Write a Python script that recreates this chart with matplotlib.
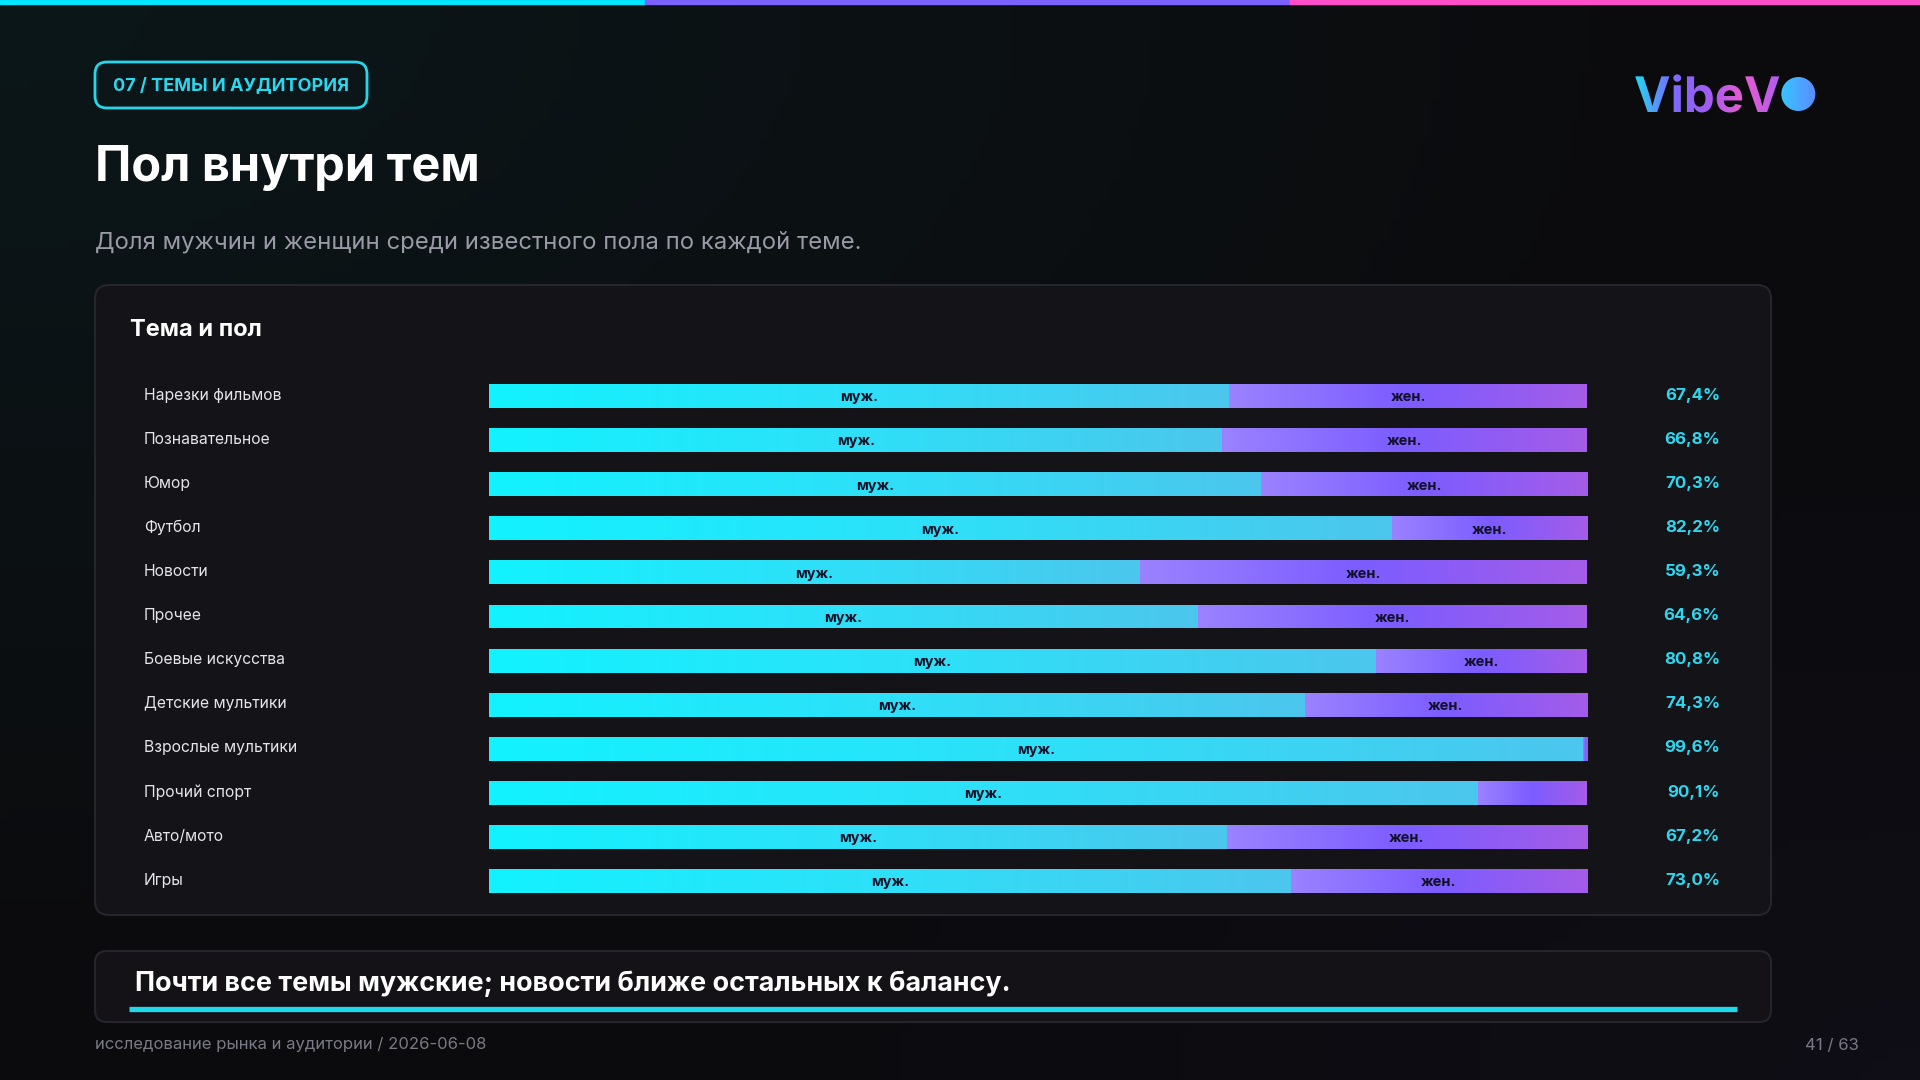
import numpy as np
import matplotlib
matplotlib.use("Agg")
import matplotlib.pyplot as plt
from matplotlib.colors import LinearSegmentedColormap, to_rgb
from matplotlib.patches import FancyBboxPatch, Rectangle, Circle, PathPatch
from matplotlib.textpath import TextPath
from matplotlib.font_manager import FontProperties
from matplotlib.transforms import Affine2D, blended_transform_factory

plt.rcParams['font.family'] = ['Inter', 'DejaVu Sans']

# data
topics = ['Нарезки фильмов', 'Познавательное', 'Юмор', 'Футбол', 'Новости', 'Прочее',
          'Боевые искусства', 'Детские мультики', 'Взрослые мультики', 'Прочий спорт',
          'Авто/мото', 'Игры']
male = np.array([67.4, 66.8, 70.3, 82.2, 59.3, 64.6, 80.8, 74.3, 99.6, 90.1, 67.2, 73.0])
female = 100 - male
pct_labels = [f'{v:.1f}%'.replace('.', ',') for v in male]

W, H = 1920, 1080
fig = plt.figure(figsize=(19.2, 10.8), dpi=100)

# background axes in pixel coords
bg = fig.add_axes([0, 0, 1, 1])
bg.set_xlim(0, W)
bg.set_ylim(H, 0)
bg.axis('off')

# dark background with soft tints
yy, xx = np.mgrid[0:108, 0:192]
base = np.array(to_rgb('#0b0b0d'))
teal = np.array(to_rgb('#0c171a'))
purp = np.array(to_rgb('#12101c'))
d1 = np.clip(1 - np.hypot(xx / 192, yy / 108) / 0.9, 0, 1)[..., None]
d2 = np.clip(1 - np.hypot((192 - xx) / 192, (108 - yy) / 108) / 0.7, 0, 1)[..., None]
img = base * (1 - d1 - d2 * 0.6) + teal * d1 + purp * d2 * 0.6
bg.imshow(np.clip(img, 0, 1), extent=(0, W, H, 0), aspect='auto', zorder=0)

# top stripe
for x0, x1, c in [(0, 645, '#00e5ff'), (645, 1290, '#7b61ff'), (1290, W, '#ff4fc8')]:
    bg.add_patch(Rectangle((x0, 0), x1 - x0, 4, color=c, zorder=2))

# badge
bg.add_patch(FancyBboxPatch((95, 62), 272, 46, boxstyle='round,pad=0,rounding_size=12',
                            facecolor='#0c1518', edgecolor='#26d6ea', lw=2, zorder=2))
bg.text(231, 86, '07 / ТЕМЫ И АУДИТОРИЯ', color='#2ad8ee', fontsize=13,
        fontweight='bold', ha='center', va='center', zorder=3)

# title and subtitle
bg.text(95, 181, 'Пол внутри тем', color='white', fontsize=35, fontweight='bold',
        va='baseline', ha='left', zorder=3)
bg.text(95, 242, 'Доля мужчин и женщин среди известного пола по каждой теме.',
        color='#9a9aa6', fontsize=17.2, va='center', ha='left', zorder=3)

# logo with gradient fill
fp = FontProperties(family='Inter', weight='bold')
tp = TextPath((0, 0), 'VibeV', size=49, prop=fp)
tp = tp.transformed(Affine2D().scale(1, -1).translate(1634, 112))
logo_patch = PathPatch(tp, facecolor='none', edgecolor='none')
bg.add_patch(logo_patch)
ext = tp.get_extents()
logo_cmap = LinearSegmentedColormap.from_list('logo', ['#22d8f0', '#7a6cff', '#a25cf2', '#e85cd0', '#b05cf0'])
logo_img = bg.imshow(np.linspace(0, 1, 256)[None, :], cmap=logo_cmap,
                     extent=(ext.x0, ext.x1, ext.y1, ext.y0), aspect='auto', zorder=3)
logo_img.set_clip_path(logo_patch)
cx = ext.x1 + 19
circ = Circle((cx, 94), 17, facecolor='none', edgecolor='none')
bg.add_patch(circ)
circ_img = bg.imshow(np.linspace(0, 1, 64)[None, :], cmap=LinearSegmentedColormap.from_list('c', ['#38c6ff', '#5a8cff']),
                     extent=(cx - 18, cx + 18, 112, 76), aspect='auto', zorder=3)
circ_img.set_clip_path(circ)

# chart panel
bg.add_patch(FancyBboxPatch((95, 285), 1676, 630, boxstyle='round,pad=0,rounding_size=14',
                            facecolor='#141418', edgecolor='#25252d', lw=1.5, zorder=1))
bg.text(130, 330, 'Тема и пол', color='white', fontsize=17, fontweight='bold',
        va='center', ha='left', zorder=3)

# insight banner
bg.add_patch(FancyBboxPatch((95, 951), 1676, 71, boxstyle='round,pad=0,rounding_size=12',
                            facecolor='#141217', edgecolor='#25252d', lw=1.5, zorder=1))
bg.text(135, 984, 'Почти все темы мужские; новости ближе остальных к балансу.',
        color='white', fontsize=19.4, fontweight='bold', va='center', ha='left', zorder=3)
bg.plot([129, 1737], [1009, 1009], color='#1fd8ea', lw=3.8, solid_capstyle='butt', zorder=3)

# footer
bg.text(95, 1045, 'исследование рынка и аудитории / 2026-06-08', color='#7a7a86',
        fontsize=12, va='center', ha='left', zorder=3)
bg.text(1859, 1045, '41 / 63', color='#7a7a86', fontsize=12, va='center', ha='right', zorder=3)

# bars axes
row_h = 44.1
top = 396 - row_h / 2
n = len(topics)
ax = fig.add_axes([489 / W, 1 - (top + n * row_h) / H, 1098 / W, n * row_h / H])
ax.set_xlim(0, 100)
ax.set_ylim(n - 0.5, -0.5)
ax.axis('off')
ax.patch.set_alpha(0)

y = np.arange(n)
bh = 0.54
male_cmap = LinearSegmentedColormap.from_list('m', ['#12f2ff', '#2ee0f8', '#4cc6ec'])
fem_cmap = LinearSegmentedColormap.from_list('f', ['#9a82ff', '#7c5cff', '#a45ce8'])
grad = np.linspace(0, 1, 256)[None, :]

bars_m = ax.barh(y, male, height=bh, color='#2ee0f8', zorder=1)
bars_f = ax.barh(y, female, left=male, height=bh, color='#8a68ff', zorder=1)
for bars, cmap in [(bars_m, male_cmap), (bars_f, fem_cmap)]:
    for b in bars:
        x0, w = b.get_x(), b.get_width()
        if w <= 0:
            continue
        im = ax.imshow(grad, cmap=cmap, extent=(x0, x0 + w, b.get_y() + bh, b.get_y()),
                       aspect='auto', zorder=2)
        im.set_clip_path(b)
ax.set_xlim(0, 100)
ax.set_ylim(n - 0.5, -0.5)

for i in range(n):
    ax.text(male[i] / 2, i + 0.03, 'муж.', color='#13112a', fontsize=10.5, fontweight='bold',
            ha='center', va='center', zorder=3)
    if female[i] >= 12:
        ax.text(male[i] + female[i] / 2, i + 0.03, 'жен.', color='#13112a', fontsize=10.5,
                fontweight='bold', ha='center', va='center', zorder=3)

tr = blended_transform_factory(bg.transData, ax.transData)
for i in range(n):
    ax.text(144, i - 0.02, topics[i], transform=tr, color='#e4e4ea', fontsize=11.3,
            ha='left', va='center', zorder=3)
    ax.text(1720, i - 0.02, pct_labels[i], transform=tr, color='#2fd6ee', fontsize=12.2,
            fontweight='bold', ha='right', va='center', zorder=3)

fig.savefig('out.png', dpi=100, facecolor='#0b0b0d')
